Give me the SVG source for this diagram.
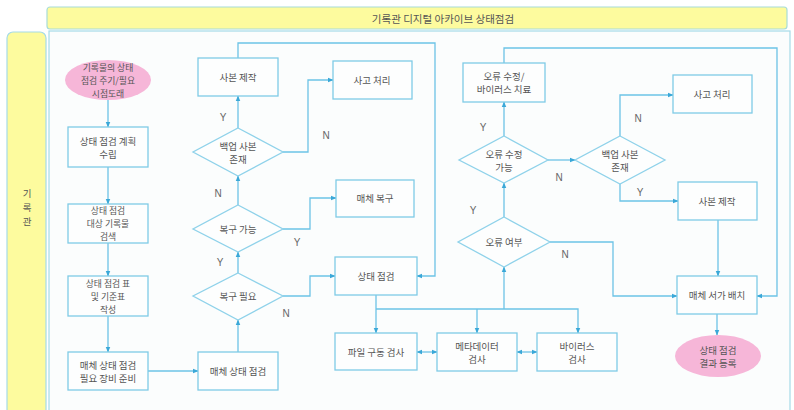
<svg xmlns="http://www.w3.org/2000/svg" width="794" height="410" viewBox="0 0 794 410">
<style>
.box{fill:#fdfefe;stroke:#7fcbe6;stroke-width:1.3}
.dia{fill:#fdfefe;stroke:#8fd2ea;stroke-width:1.3}
.ell{fill:#f6b6d8;stroke:none}
.t{font-family:"Noto Sans CJK KR","Noto Sans",sans-serif;font-size:9.5px;fill:#555;text-anchor:middle;dominant-baseline:central}
.s{font-size:8.8px}
.lbl{font-family:"Liberation Sans",Arial,sans-serif;font-size:10px;fill:#666;text-anchor:middle;dominant-baseline:central}
.c{fill:none;stroke:#6cc3e6;stroke-width:1.3}
</style>
<defs>
<marker id="ah" viewBox="0 0 10 10" refX="9" refY="5" markerWidth="6" markerHeight="6" markerUnits="userSpaceOnUse" orient="auto-start-reverse">
<path d="M0,1 L10,5 L0,9 Z" fill="#3aa8d8"/>
</marker>
</defs>
<rect x="0" y="0" width="794" height="410" fill="#ffffff"/>
<rect x="49" y="31" width="741" height="390" fill="#fbfdfd" stroke="#a6dbe8" stroke-width="1.2"/>
<g id="title">
<rect x="47" y="7" width="740" height="22" rx="3" fill="#fdfb9e" stroke="#a8dcd8" stroke-width="1.2"/>
<text x="443" y="18" class="t" style="font-size:10.5px">기록관 디지털 아카이브 상태점검</text>
</g>
<g id="lane">
<rect x="7" y="32" width="39" height="395" rx="6" fill="#fdfb9e" stroke="#a6dbe8" stroke-width="1.2"/>
<text x="27" y="193" class="t">기</text>
<text x="27" y="207" class="t">록</text>
<text x="27" y="221" class="t">관</text>
</g>
<g id="connectors">
<path class="c" marker-end="url(#ah)" d="M108,100 V127"/>
<path class="c" marker-end="url(#ah)" d="M108,167 V204"/>
<path class="c" marker-end="url(#ah)" d="M108,243 V276"/>
<path class="c" marker-end="url(#ah)" d="M108,316 V352"/>
<path class="c" marker-end="url(#ah)" d="M148,371 H198"/>
<path class="c" marker-end="url(#ah)" d="M238,352 V320"/>
<path class="c" marker-end="url(#ah)" d="M238,273 V252"/>
<path class="c" marker-end="url(#ah)" d="M238,205 V176"/>
<path class="c" marker-end="url(#ah)" d="M238,128 V96"/>
<path class="c" marker-end="url(#ah)" d="M283,152 H308 V80 H333"/>
<path class="c" marker-end="url(#ah)" d="M283,229 H310 V198 H336"/>
<path class="c" marker-end="url(#ah)" d="M283,296 H310 V276 H335"/>
<path class="c" marker-end="url(#ah)" d="M238,58 V43 H435 V276 H417"/>
<path class="c" marker-end="url(#ah)" d="M376,295 V333"/>
<path class="c" marker-end="url(#ah)" d="M376,309 H578 V333"/>
<path class="c" marker-end="url(#ah)" d="M477,309 V333"/>
<path class="c" marker-end="url(#ah)" d="M504,309 V267"/>
<path class="c" marker-start="url(#ah)" marker-end="url(#ah)" d="M417,352 H437"/>
<path class="c" marker-start="url(#ah)" marker-end="url(#ah)" d="M517,352 H537"/>
<path class="c" marker-end="url(#ah)" d="M504,217 V183"/>
<path class="c" marker-end="url(#ah)" d="M504,136 V102"/>
<path class="c" marker-end="url(#ah)" d="M504,63 V48 H777 V296 H757"/>
<path class="c" marker-end="url(#ah)" d="M548,160 H575"/>
<path class="c" marker-end="url(#ah)" d="M620,136 V95 H673"/>
<path class="c" marker-end="url(#ah)" d="M620,184 V201 H678"/>
<path class="c" marker-end="url(#ah)" d="M718,220 V276"/>
<path class="c" marker-end="url(#ah)" d="M550,242 H613 V296 H677"/>
<path class="c" marker-end="url(#ah)" d="M717,314 V335"/>
<text class="lbl" x="223" y="117">Y</text>
<text class="lbl" x="326" y="135">N</text>
<text class="lbl" x="218" y="193">N</text>
<text class="lbl" x="297" y="242">Y</text>
<text class="lbl" x="220" y="262">Y</text>
<text class="lbl" x="286" y="313">N</text>
<text class="lbl" x="483" y="127">Y</text>
<text class="lbl" x="473" y="210">Y</text>
<text class="lbl" x="559" y="177">N</text>
<text class="lbl" x="638" y="118">N</text>
<text class="lbl" x="640" y="192">Y</text>
<text class="lbl" x="565" y="254">N</text>
</g>
<g id="start">
<ellipse class="ell" cx="108" cy="80" rx="43" ry="20"/>
<text class="t s" x="108" y="67">기록물의 상태</text>
<text class="t s" x="108" y="80">점검 주기/필요</text>
<text class="t s" x="108" y="93">시점도래</text>
</g>
<g id="plan">
<rect class="box" x="68" y="127" width="80" height="40"/>
<text class="t" x="108" y="141">상태 점검 계획</text>
<text class="t" x="108" y="154">수립</text>
</g>
<g id="search">
<rect class="box" x="68" y="204" width="80" height="39"/>
<text class="t s" x="108" y="210.5">상태 점검</text>
<text class="t s" x="108" y="223.5">대상 기록물</text>
<text class="t s" x="108" y="236.5">검색</text>
</g>
<g id="table">
<rect class="box" x="68" y="276" width="80" height="40"/>
<text class="t s" x="108" y="283">상태 점검 표</text>
<text class="t s" x="108" y="296">및 기준표</text>
<text class="t s" x="108" y="309">작성</text>
</g>
<g id="prep">
<rect class="box" x="68" y="352" width="80" height="38"/>
<text class="t" x="108" y="365">매체 상태 점검</text>
<text class="t" x="108" y="378">필요 장비 준비</text>
</g>
<g id="media-check">
<rect class="box" x="198" y="352" width="80" height="38"/>
<text class="t" x="238" y="371">매체 상태 점검</text>
</g>
<g id="need-recover">
<polygon class="dia" points="238,273 283,296 238,320 193,296"/>
<text class="t" x="238" y="296">복구 필요</text>
</g>
<g id="can-recover">
<polygon class="dia" points="238,205 283,229 238,252 193,229"/>
<text class="t" x="238" y="229">복구 가능</text>
</g>
<g id="backup-left">
<polygon class="dia" points="238,128 283,152 238,176 193,152"/>
<text class="t" x="238" y="146">백업 사본</text>
<text class="t" x="238" y="159">존재</text>
</g>
<g id="copy-left">
<rect class="box" x="198" y="58" width="80" height="38"/>
<text class="t" x="238" y="77">사본 제작</text>
</g>
<g id="accident-left">
<rect class="box" x="333" y="61" width="79" height="38"/>
<text class="t" x="372" y="80">사고 처리</text>
</g>
<g id="media-recover">
<rect class="box" x="336" y="180" width="78" height="37"/>
<text class="t" x="375" y="198">매체 복구</text>
</g>
<g id="status-check">
<rect class="box" x="335" y="257" width="82" height="38"/>
<text class="t" x="376" y="276">상태 점검</text>
</g>
<g id="file-check">
<rect class="box" x="335" y="333" width="82" height="37"/>
<text class="t" x="376" y="352">파일 구동 검사</text>
</g>
<g id="meta-check">
<rect class="box" x="437" y="333" width="80" height="38"/>
<text class="t" x="477" y="346">메타데이터</text>
<text class="t" x="477" y="359">검사</text>
</g>
<g id="virus-check">
<rect class="box" x="537" y="333" width="80" height="38"/>
<text class="t" x="577" y="346">바이러스</text>
<text class="t" x="577" y="359">검사</text>
</g>
<g id="error">
<polygon class="dia" points="504,217 550,242 504,267 458,242"/>
<text class="t" x="504" y="242">오류 여부</text>
</g>
<g id="can-fix">
<polygon class="dia" points="504,136 548,160 504,183 459,160"/>
<text class="t" x="504" y="154">오류 수정</text>
<text class="t" x="504" y="167">가능</text>
</g>
<g id="fix">
<rect class="box" x="463" y="63" width="82" height="39"/>
<text class="t" x="504" y="76">오류 수정/</text>
<text class="t" x="504" y="89">바이러스 치료</text>
</g>
<g id="backup-right">
<polygon class="dia" points="620,136 665,160 620,184 575,160"/>
<text class="t" x="620" y="154">백업 사본</text>
<text class="t" x="620" y="167">존재</text>
</g>
<g id="accident-right">
<rect class="box" x="673" y="75" width="79" height="38"/>
<text class="t" x="712" y="94">사고 처리</text>
</g>
<g id="copy-right">
<rect class="box" x="678" y="182" width="79" height="38"/>
<text class="t" x="717" y="201">사본 제작</text>
</g>
<g id="shelve">
<rect class="box" x="677" y="276" width="80" height="38"/>
<text class="t" x="717" y="295">매체 서가 배치</text>
</g>
<g id="end">
<ellipse class="ell" cx="718" cy="356" rx="43" ry="21"/>
<text class="t" x="718" y="350">상태 점검</text>
<text class="t" x="718" y="363">결과 등록</text>
</g>
</svg>
